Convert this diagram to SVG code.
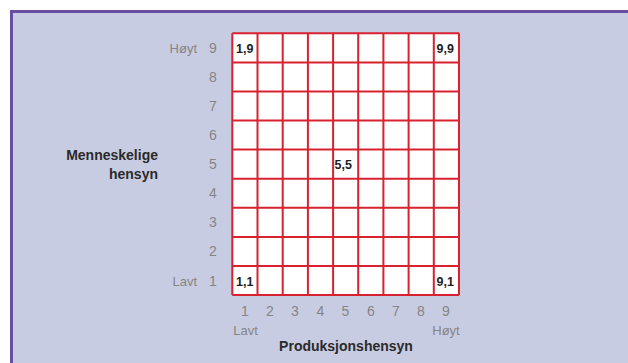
<svg xmlns="http://www.w3.org/2000/svg" width="628" height="363" viewBox="0 0 628 363">
<style>
.num{font-family:"Liberation Sans",Arial,sans-serif;font-size:14px;fill:#858585;}
.lbl{font-family:"Liberation Sans",Arial,sans-serif;font-size:13px;fill:#858585;}
.ttl{font-family:"Liberation Sans",Arial,sans-serif;font-size:14px;font-weight:bold;fill:#2a2a2a;}
.cell{font-family:"Liberation Sans",Arial,sans-serif;font-size:12.5px;font-weight:bold;fill:#1e1e1e;}
.grid{stroke:#d8222f;stroke-width:2;fill:none;}
</style>
<rect x="0" y="0" width="628" height="363" fill="#ffffff"/>
<rect x="10" y="10" width="620" height="355" fill="#c8cce2"/>
<path d="M11.5,363 V11.5 H628" stroke="#674ea0" stroke-width="3" fill="none"/>
<g id="grid">
<rect x="232.3" y="33.3" width="226.7" height="261.7" fill="#ffffff"/>
<path class="grid" d="M232.3,33.3 V295 M257.5,33.3 V295 M282.7,33.3 V295 M307.9,33.3 V295 M333.1,33.3 V295 M358.2,33.3 V295 M383.4,33.3 V295 M408.6,33.3 V295 M433.8,33.3 V295 M459,33.3 V295"/>
<path class="grid" d="M232.3,33.3 H459 M232.3,62.4 H459 M232.3,91.4 H459 M232.3,120.5 H459 M232.3,149.6 H459 M232.3,178.7 H459 M232.3,207.8 H459 M232.3,236.9 H459 M232.3,265.9 H459 M232.3,295 H459"/>
</g>
<g id="cells">
<text class="cell" x="236" y="53">1,9</text>
<text class="cell" x="436.5" y="53">9,9</text>
<text class="cell" x="334.5" y="169">5,5</text>
<text class="cell" x="236" y="285.5">1,1</text>
<text class="cell" x="436.5" y="285.5">9,1</text>
</g>
<g id="y-axis">
<text class="lbl" x="197" y="53" text-anchor="end">Høyt</text>
<text class="lbl" x="197" y="285.5" text-anchor="end">Lavt</text>
<g text-anchor="middle">
<text class="num" x="213" y="53">9</text>
<text class="num" x="213" y="82">8</text>
<text class="num" x="213" y="111">7</text>
<text class="num" x="213" y="140">6</text>
<text class="num" x="213" y="169">5</text>
<text class="num" x="213" y="198">4</text>
<text class="num" x="213" y="227">3</text>
<text class="num" x="213" y="256">2</text>
<text class="num" x="213" y="285.5">1</text>
</g>
<text class="ttl" x="158" y="160" text-anchor="end">Menneskelige</text>
<text class="ttl" x="158" y="179" text-anchor="end">hensyn</text>
</g>
<g id="x-axis" text-anchor="middle">
<text class="num" x="245" y="315.5">1</text>
<text class="num" x="270" y="315.5">2</text>
<text class="num" x="295" y="315.5">3</text>
<text class="num" x="320.5" y="315.5">4</text>
<text class="num" x="345.5" y="315.5">5</text>
<text class="num" x="371" y="315.5">6</text>
<text class="num" x="396" y="315.5">7</text>
<text class="num" x="421" y="315.5">8</text>
<text class="num" x="446" y="315.5">9</text>
<text class="lbl" x="245.5" y="335">Lavt</text>
<text class="lbl" x="446" y="335">Høyt</text>
<text class="ttl" x="346" y="351">Produksjonshensyn</text>
</g>
</svg>
